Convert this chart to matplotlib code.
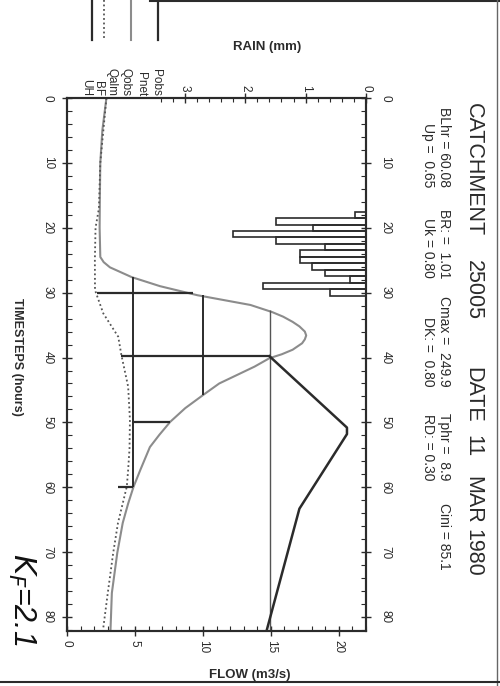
import numpy as np
import matplotlib.pyplot as plt
from matplotlib.lines import Line2D

plt.rcParams['font.family'] = ['Liberation Sans', 'DejaVu Sans']

W, H = 500, 686

# hourly rainfall (mm)
rain_hours = [18, 19, 20, 21, 22, 23, 24, 25, 26, 27, 28, 29, 30]
rain_mm = [0.18, 1.49, 0.87, 2.2, 1.49, 0.68, 1.09, 1.09, 0.9, 0.68, 0.26, 1.7, 0.6]

# observed flow (m3/s) against timestep (hours)
qobs_t = [0, 5, 10, 15, 20, 24.5, 25.3, 26.1, 27.6, 29.0, 30.4, 31.9, 33.0, 33.7, 34.5,
          35.2, 36.0, 36.6, 37.2, 37.8, 38.8, 39.5, 40.1, 41.4, 42.8, 44.0, 45.8, 47.8,
          49.9, 51.9, 53.8, 57.3, 59.9, 62.5, 65.5, 70.1, 76.3, 82]
qobs = [2.9, 2.6, 2.45, 2.42, 2.4, 2.45, 2.7, 3.16, 4.75, 6.84, 9.6, 13.5, 15.1, 15.9, 16.6,
        17.1, 17.5, 17.6, 17.5, 17.3, 16.6, 15.8, 14.9, 13.8, 12.4, 11.2, 10.0, 8.7,
        7.6, 6.8, 6.1, 5.4, 4.9, 4.5, 4.1, 3.7, 3.3, 3.2]

# baseflow
bf_t = [0, 10, 17, 20, 25, 29.6, 33.2, 36.8, 39.6, 44.5, 49.6, 54, 57.3, 59.9, 65.5, 70.1, 76.3, 82]
bf = [2.9, 2.45, 2.35, 2.1, 2.05, 2.06, 2.67, 3.77, 4.0, 4.5, 4.63, 4.6, 4.5, 4.4, 3.75, 3.4, 3.0, 2.65]

# unit hydrograph drawn from its own base line
uh_t = [39.8, 50.8, 51.8, 63.3, 82]
uh_q = [14.9, 20.6, 20.6, 17.1, 14.7]
uh_base_q = 14.9
uh_base_t = [32.7, 82]

# hydrograph widths at fixed flows
width_q = [4.85, 10.0]
width_t0 = [27.6, 30.3]
width_t1 = [59.9, 45.8]

# timing marks
mark_t = [30.0, 39.8, 49.9, 59.9]
mark_q0 = [2.2, 4.0, 4.8, 3.75]
mark_q1 = [9.3, 14.9, 7.6, 4.85]

legend_names = ['UH', 'BF', 'Qalm', 'Qobs', 'Pnet', 'Pobs']

dark = '#2b2b2b'

fig = plt.figure(figsize=(W / 100, H / 100), dpi=100)
ax = fig.add_axes([67 / W, 1 - 631 / H, 299 / W, 533 / H])

ax.plot(qobs, qobs_t, color='#8c8c8c', lw=1.5)
ax.plot(bf, bf_t, color='#555555', lw=1.3, ls=(0, (1, 1.5)))
ax.vlines(uh_base_q, uh_base_t[0], uh_base_t[1], color='#555555', lw=1.0)
ax.plot(uh_q, uh_t, color=dark, lw=1.8)
ax.vlines(width_q, width_t0, width_t1, color=dark, lw=1.4)
ax.hlines(mark_t, mark_q0, mark_q1, color=dark, lw=1.6)

ax.set_xlim(0, 22)
ax.set_ylim(82.15, 0)
ax.set_xticks([0, 5, 10, 15, 20])
ax.set_xticks(np.arange(0, 23, 1), minor=True)
ax.set_yticks(np.arange(0, 81, 10))
ax.set_yticks(np.arange(0, 83, 2), minor=True)
ax.tick_params(which='major', direction='inout', length=7.2, width=1.0, colors=dark,
               right=True, labelright=True, top=False, labelsize=8.5)
ax.tick_params(which='minor', direction='in', length=3.6, width=0.8, colors=dark,
               right=True, top=False)
ax.tick_params(axis='x', labelrotation=-90, pad=3)
ax.tick_params(axis='y', labelrotation=-90, pad=6)
for lab in ax.get_yticklabels():
    lab.set_va('center')
for s in ax.spines.values():
    s.set_linewidth(1.5)
    s.set_color(dark)

ax2 = ax.twiny()
ax2.barh(rain_hours, rain_mm, height=1.0, left=0, facecolor='none', edgecolor=dark, lw=1.2)
ax2.set_xlim(4.95, 0)
ax2.set_xticks([0, 1, 2, 3])
ax2.set_xticks(np.arange(0, 3.5, 0.2), minor=True)
ax2.tick_params(axis='x', which='major', direction='inout', length=7.2, width=1.0,
                colors=dark, labelrotation=-90, pad=1, labelsize=8.5)
ax2.tick_params(axis='x', which='minor', direction='in', length=3.0, width=0.8, colors=dark)
for s in ax2.spines.values():
    s.set_linewidth(1.5)
    s.set_color(dark)


def ftext(x, y, s, **kw):
    fig.text(x / W, 1 - y / H, s, color=kw.pop('color', dark), **kw)


def fline(xs, ys, **kw):
    fig.add_artist(Line2D([x / W for x in xs], [1 - y / H for y in ys],
                          transform=fig.transFigure, **kw))


# axis titles
ftext(267, 47, 'RAIN (mm)', ha='center', va='center', fontsize=9.5, fontweight='bold')
ftext(250, 675, 'FLOW (m3/s)', ha='center', va='center', fontsize=9.5, fontweight='bold')
ftext(17, 357, 'TIMESTEPS (hours)', rotation=-90, ha='center', va='center',
      fontsize=9, fontweight='bold')

# header
for s, y in [('CATCHMENT', 103), ('25005', 260), ('DATE', 367), ('11', 435),
             ('MAR', 476), ('1980', 529)]:
    ftext(473, y, s, rotation=-90, ha='center', va='top', fontsize=15.5)

for s, y in [('BLhr = 60.08', 187), ('BR: =  1.01', 278), ('Cmax =  249.9', 387),
             ('Tphr =  8.9', 480), ('Cini = 85.1', 570)]:
    ftext(444, y, s, rotation=-90, ha='center', va='bottom', fontsize=10)
for s, y in [('Up =  0.65', 187), ('Uk = 0.80', 278), ('DK: =  0.80', 387),
             ('RD: = 0.30', 480)]:
    ftext(428, y, s, rotation=-90, ha='center', va='bottom', fontsize=10)

# legend
for s, x in zip(legend_names, [86, 98, 112, 125, 141, 156]):
    ftext(x, 96, s, rotation=-90, ha='center', va='bottom', fontsize=8.5)
fline([92, 92], [0, 40], color=dark, lw=1.6)
fline([104, 104], [0, 40], color='#555555', lw=1.3, ls=(0, (1, 1.5)))
fline([131, 131], [0, 40], color='#8c8c8c', lw=1.5)
fline([158, 158], [0, 40], color=dark, lw=1.6)

# page frame
fline([150, 500], [1, 1], color=dark, lw=1.5)
fline([497, 497], [0, 686], color='#666666', lw=1.0)
fline([0, 500], [682, 682], color=dark, lw=1.5)

ftext(22, 553, r'$K_F$=2.1', rotation=-90, ha='center', va='top', fontsize=22,
      style='italic', color='#111111')

fig.savefig('out.png', dpi=100, facecolor='white')
